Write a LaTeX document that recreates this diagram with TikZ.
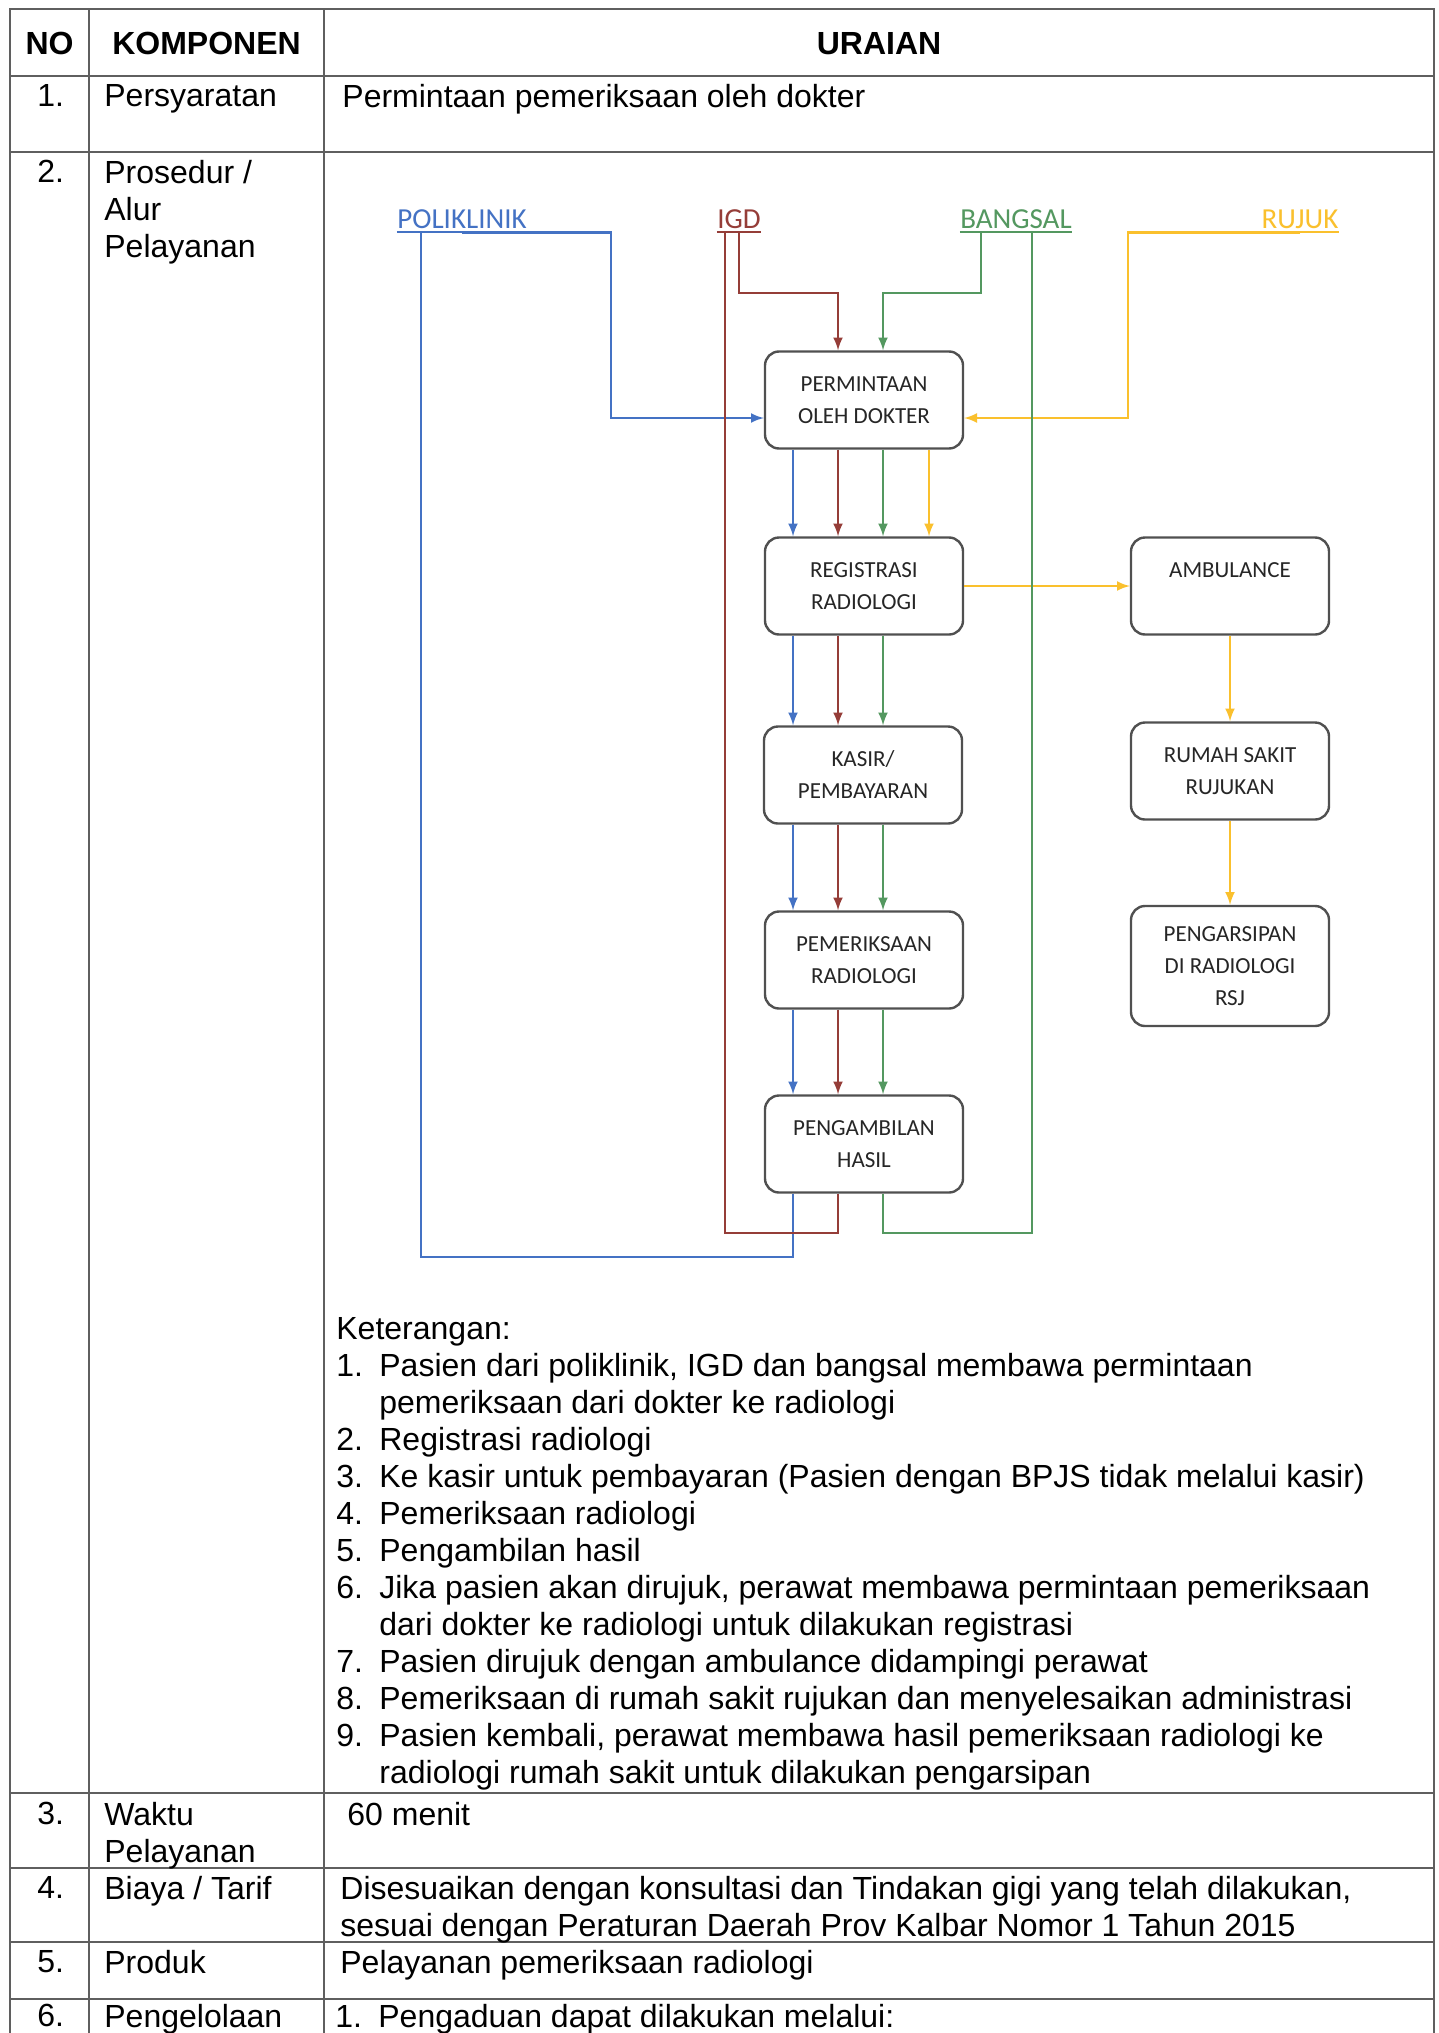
\documentclass[tikz,border=0pt]{standalone}
\usepackage{fontspec}
\setmainfont{Liberation Sans}
\newfontfamily\boxfont{Carlito}
\usetikzlibrary{calc}

\definecolor{poliblue}{RGB}{68,114,196}
\definecolor{igdred}{RGB}{149,61,56}
\definecolor{bangsalgreen}{RGB}{84,152,96}
\definecolor{rujukyellow}{RGB}{250,192,45}
\definecolor{boxgray}{RGB}{80,80,80}
\definecolor{rulegray}{RGB}{95,95,95}

\newcommand{\tabfont}{\fontsize{16}{18.5}\selectfont}
\newcommand{\numitem}[1]{\makebox[21.5pt][l]{#1}}

\begin{document}
\begin{tikzpicture}[x=0.5pt,y=-0.5pt]
\tikzset{stepbox/.style = {shape=rectangle,draw=boxgray,rounded corners=7pt,line width=1.2pt,minimum width=99pt,minimum height=48.5pt,align=center,inner sep=0pt,text=black!85,font=\boxfont\fontsize{11.5}{16}\selectfont}}
\tikzset{src/.style = {font=\boxfont\fontsize{14.5}{16}\selectfont,inner xsep=0pt,inner ysep=2pt,text depth=0pt,anchor=base}}
\tikzset{cell/.style = {font=\tabfont,inner sep=0pt,align=left,anchor=north west}}
\tikzset{head/.style = {font=\tabfont\bfseries,inner sep=0pt,anchor=base}}
\tikzset{flow/.style = {->,> = latex,line width=1.2pt}}
\tikzset{back/.style = {line width=1.2pt}}

\useasboundingbox (0,0) rectangle (1439,2033);
\clip (0,0) rectangle (1439,2033);
\fill[white] (0,0) rectangle (1439,2033);

% table rules
\draw[rulegray,line width=1.1pt] (10,2040) -- (10,9) -- (1434,9) -- (1434,2040)
  (89,9) -- (89,2040) (324,9) -- (324,2040)
  (10,76) -- (1434,76) (10,152) -- (1434,152)
  (10,1793) -- (1434,1793) (10,1868) -- (1434,1868)
  (10,1942) -- (1434,1942) (10,1999) -- (1434,1999);

\node[head] (hno) at (49.5,55) {NO};
\node[head] (hkomp) at (206.5,55) {KOMPONEN};
\node[head] (huraian) at (879,55) {URAIAN};

\node[cell] (no1) at (37,84) {1.};
\node[cell] (komp1) at (104,84) {Persyaratan};
\node[cell] (urai1) at (342,84) {Permintaan pemeriksaan oleh dokter};

\node[cell] (no2) at (37,160) {2.};
\node[cell] (komp2) at (104,160) {Prosedur /\\Alur\\Pelayanan};

% flow diagram
\node[src,text=poliblue] (poli) at (462,228) {POLIKLINIK};
\node[src,text=igdred] (igd) at (739,228) {IGD};
\node[src,text=bangsalgreen] (bangsal) at (1016,228) {BANGSAL};
\node[src,text=rujukyellow] (rujuk) at (1300,228) {RUJUK};
\draw[poliblue,line width=1pt] (poli.south west) -- (poli.south east);
\draw[igdred,line width=1pt] (igd.south west) -- (igd.south east);
\draw[bangsalgreen,line width=1pt] (bangsal.south west) -- (bangsal.south east);
\draw[rujukyellow,line width=1pt] (rujuk.south west) -- (rujuk.south east);

\node[stepbox] (perm) at (864,400) {PERMINTAAN\\OLEH DOKTER};
\node[stepbox] (regis) at (864,586) {REGISTRASI\\RADIOLOGI};
\node[stepbox] (kasir) at (863,775) {KASIR/\\PEMBAYARAN};
\node[stepbox] (periksa) at (864,960) {PEMERIKSAAN\\RADIOLOGI};
\node[stepbox] (ambil) at (864,1144) {PENGAMBILAN\\HASIL};
\node[stepbox] (ambul) at (1230,586) {AMBULANCE\\\mbox{}};
\node[stepbox] (rsrujuk) at (1230,771) {RUMAH SAKIT\\RUJUKAN};
\node[stepbox,minimum height=60pt] (arsip) at (1230,966) {PENGARSIPAN\\DI RADIOLOGI\\RSJ};

\coordinate (bluelane) at (793,0);
\coordinate (redlane) at (838,0);
\coordinate (greenlane) at (883,0);
\coordinate (yellowlane) at (929,0);
\coordinate (polibend) at (611,418);
\coordinate (igdbend) at (838,293);
\coordinate (bangsalbend) at (883,293);
\coordinate (rujukbend) at (1128,418);
\coordinate (polibot) at (421,1257);
\coordinate (igdbot) at (725,1233);
\coordinate (bangsalbot) at (1032,1233);

\draw[flow,poliblue] (poli.south) -| (polibend) -- (polibend -| perm.west);
\draw[flow,igdred] (igd.south) |- (igdbend) -- (igdbend |- perm.north);
\draw[flow,bangsalgreen] ($(bangsal.south)+(-35,0)$) |- (bangsalbend) -- (bangsalbend |- perm.north);
\draw[flow,rujukyellow] (rujuk.south) -| (rujukbend) -- (rujukbend -| perm.east);

\path[flow]
(perm.south -| bluelane) edge[poliblue] (regis.north -| bluelane)
(perm.south -| redlane) edge[igdred] (regis.north -| redlane)
(perm.south -| greenlane) edge[bangsalgreen] (regis.north -| greenlane)
(perm.south -| yellowlane) edge[rujukyellow] (regis.north -| yellowlane)
(regis.south -| bluelane) edge[poliblue] (kasir.north -| bluelane)
(regis.south -| redlane) edge[igdred] (kasir.north -| redlane)
(regis.south -| greenlane) edge[bangsalgreen] (kasir.north -| greenlane)
(kasir.south -| bluelane) edge[poliblue] (periksa.north -| bluelane)
(kasir.south -| redlane) edge[igdred] (periksa.north -| redlane)
(kasir.south -| greenlane) edge[bangsalgreen] (periksa.north -| greenlane)
(periksa.south -| bluelane) edge[poliblue] (ambil.north -| bluelane)
(periksa.south -| redlane) edge[igdred] (ambil.north -| redlane)
(periksa.south -| greenlane) edge[bangsalgreen] (ambil.north -| greenlane)
(regis.east) edge[rujukyellow] (ambul.west)
(ambul.south) edge[rujukyellow] (rsrujuk.north)
(rsrujuk.south) edge[rujukyellow] (arsip.north);

\draw[back,poliblue] (ambil.south -| bluelane) |- (polibot) -- (polibot |- poli.south);
\draw[back,igdred] (ambil.south -| redlane) |- (igdbot) -- (igdbot |- igd.south);
\draw[back,bangsalgreen] (ambil.south -| greenlane) |- (bangsalbot) -- (bangsalbot |- bangsal.south);

\node[cell] (ket) at (336,1317) {Keterangan:\\
\numitem{1.}Pasien dari poliklinik, IGD dan bangsal membawa permintaan\\
\numitem{}pemeriksaan dari dokter ke radiologi\\
\numitem{2.}Registrasi radiologi\\
\numitem{3.}Ke kasir untuk pembayaran (Pasien dengan BPJS tidak melalui kasir)\\
\numitem{4.}Pemeriksaan radiologi\\
\numitem{5.}Pengambilan hasil\\
\numitem{6.}Jika pasien akan dirujuk, perawat membawa permintaan pemeriksaan\\
\numitem{}dari dokter ke radiologi untuk dilakukan registrasi\\
\numitem{7.}Pasien dirujuk dengan ambulance didampingi perawat\\
\numitem{8.}Pemeriksaan di rumah sakit rujukan dan menyelesaikan administrasi\\
\numitem{9.}Pasien kembali, perawat membawa hasil pemeriksaan radiologi ke\\
\numitem{}radiologi rumah sakit untuk dilakukan pengarsipan};

\node[cell] (no3) at (37,1802) {3.};
\node[cell] (komp3) at (104,1802) {Waktu\\Pelayanan};
\node[cell] (urai3) at (347,1802) {60 menit};

\node[cell] (no4) at (37,1876) {4.};
\node[cell] (komp4) at (104,1876) {Biaya / Tarif};
\node[cell] (urai4) at (340,1876) {Disesuaikan dengan konsultasi dan Tindakan gigi yang telah dilakukan,\\sesuai dengan Peraturan Daerah Prov Kalbar Nomor 1 Tahun 2015};

\node[cell] (no5) at (37,1950) {5.};
\node[cell] (komp5) at (104,1950) {Produk};
\node[cell] (urai5) at (340,1950) {Pelayanan pemeriksaan radiologi};

\node[cell] (no6) at (37,2004) {6.};
\node[cell] (komp6) at (104,2004) {Pengelolaan};
\node[cell] (urai6) at (335,2004) {\numitem{1.}Pengaduan dapat dilakukan melalui:};
\end{tikzpicture}
\end{document}
